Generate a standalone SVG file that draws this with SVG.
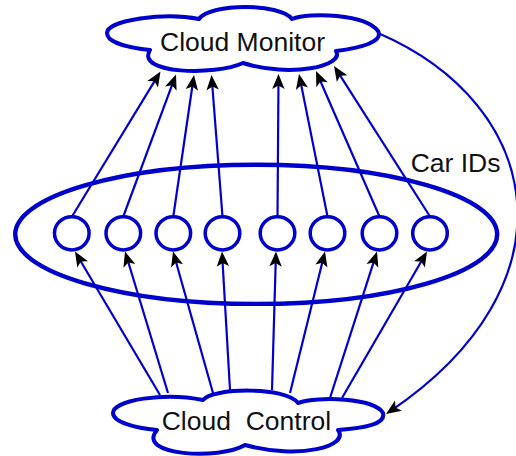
<svg xmlns="http://www.w3.org/2000/svg" xmlns:xlink="http://www.w3.org/1999/xlink" width="516" height="456" viewBox="0 0 516 456">
<style>
.cloud{fill:#fff;stroke:#0000CC;stroke-width:4;stroke-linejoin:round}
.ring{fill:#fff;stroke:#0000CC;stroke-width:3.5}
.group{fill:none;stroke:#0000CC;stroke-width:4.4}
.edge{fill:none;stroke:#0000CC;stroke-width:2.2}
.head{fill:#000}
.lbl{font-family:"Liberation Sans",Arial,sans-serif;font-size:26.5px;fill:#111;white-space:pre}
</style>
<defs>
<path id="ah" class="head" d="M0,0 L-15,-6.2 L-11.5,0 L-15,6.2 Z"/>
</defs>
<g id="car-ids">
<ellipse class="group" cx="256.2" cy="234.3" rx="241" ry="69.6"/>
<text class="lbl" x="410.7" y="171.7">Car IDs</text>
</g>
<g id="connectors">
<path class="edge" d="M72,216.5 L158.4,74.9"/>
<path class="edge" d="M123.3,216.5 L174.6,78.2"/>
<path class="edge" d="M173.3,216.5 L193.4,79"/>
<path class="edge" d="M222.5,216.5 L211.8,79"/>
<path class="edge" d="M277.5,216.5 L278.5,78"/>
<path class="edge" d="M327.5,216.5 L299.8,77.9"/>
<path class="edge" d="M379.5,216.5 L317.6,74.7"/>
<path class="edge" d="M430,216.5 L336.2,69.4"/>
<path class="edge" d="M160,395 L77,255"/>
<path class="edge" d="M168,393 L126.2,255.3"/>
<path class="edge" d="M213,393 L174.1,255.3"/>
<path class="edge" d="M230,390 L222.2,255.5"/>
<path class="edge" d="M272,390 L275.9,255.5"/>
<path class="edge" d="M290,393 L324,255.4"/>
<path class="edge" d="M330,398 L375.8,255.3"/>
<path class="edge" d="M342,398 L425,255"/>
<path class="edge" d="M378,33 C545,105 578,285 389.3,411.8"/>
<use xlink:href="#ah" href="#ah" transform="translate(160.5,71.5) rotate(-58.6)"/>
<use xlink:href="#ah" href="#ah" transform="translate(176,74.5) rotate(-69.6)"/>
<use xlink:href="#ah" href="#ah" transform="translate(194,75) rotate(-81.7)"/>
<use xlink:href="#ah" href="#ah" transform="translate(211.5,75) rotate(-94.4)"/>
<use xlink:href="#ah" href="#ah" transform="translate(278.5,74) rotate(-89.6)"/>
<use xlink:href="#ah" href="#ah" transform="translate(299,74) rotate(-101.3)"/>
<use xlink:href="#ah" href="#ah" transform="translate(316,71) rotate(-113.6)"/>
<use xlink:href="#ah" href="#ah" transform="translate(334,66) rotate(-122.5)"/>
<use xlink:href="#ah" href="#ah" transform="translate(75,251.5) rotate(-120.6)"/>
<use xlink:href="#ah" href="#ah" transform="translate(125,251.5) rotate(-106.9)"/>
<use xlink:href="#ah" href="#ah" transform="translate(173,251.5) rotate(-105.8)"/>
<use xlink:href="#ah" href="#ah" transform="translate(222,251.5) rotate(-93.3)"/>
<use xlink:href="#ah" href="#ah" transform="translate(276,251.5) rotate(-88.3)"/>
<use xlink:href="#ah" href="#ah" transform="translate(325,251.5) rotate(-76.1)"/>
<use xlink:href="#ah" href="#ah" transform="translate(377,251.5) rotate(-72.2)"/>
<use xlink:href="#ah" href="#ah" transform="translate(427,251.5) rotate(-59.9)"/>
<use xlink:href="#ah" href="#ah" transform="translate(386,414) rotate(146.1)"/>
</g>
<g id="cloud-monitor">
<path class="cloud" d="M107,33 C107,20 165,12 199,19 C210,3 280,3 292,19 C310,12 365,14 378,31 C384,42 360,48 336,51 C345,66 290,78 243,63 C215,76 135,74 150,50 C130,48 107,43 107,33 Z"/>
<text class="lbl" x="160" y="50.7">Cloud Monitor</text>
</g>
<g id="cars">
<ellipse class="ring" cx="71.8" cy="233.3" rx="17.3" ry="16.6"/>
<ellipse class="ring" cx="123.3" cy="233.3" rx="17.3" ry="16.6"/>
<ellipse class="ring" cx="173.3" cy="233.3" rx="17.3" ry="16.6"/>
<ellipse class="ring" cx="222.5" cy="233.3" rx="17.3" ry="16.6"/>
<ellipse class="ring" cx="277.5" cy="233.3" rx="17.3" ry="16.6"/>
<ellipse class="ring" cx="327.5" cy="233.3" rx="17.3" ry="16.6"/>
<ellipse class="ring" cx="379.5" cy="233.3" rx="17.3" ry="16.6"/>
<ellipse class="ring" cx="430" cy="233.3" rx="17.3" ry="16.6"/>
</g>
<g id="cloud-control">
<path class="cloud" d="M113,413 C113,400 165,392 203,400 C212,388 285,386 298,403 C318,396 375,398 383,413 C386,424 365,428 338,430 C350,446 300,460 245,445 C220,460 135,456 157,430 C135,428 113,422 113,413 Z"/>
<text class="lbl" x="161.7" y="430">Cloud  Control</text>
</g>
</svg>
